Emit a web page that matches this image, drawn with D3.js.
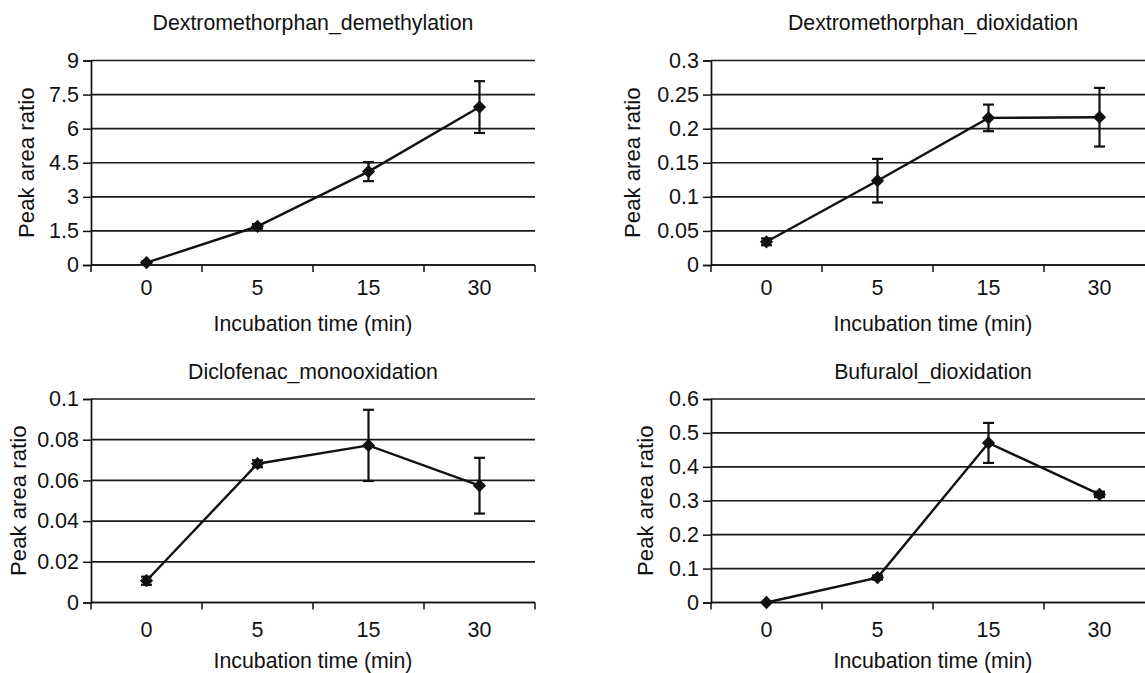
<!DOCTYPE html>
<html>
<head>
<meta charset="utf-8">
<script src="https://cdn.jsdelivr.net/npm/d3@7"></script>
<style>
  html, body { margin: 0; padding: 0; background: #fff; }
  svg { display: block; }
  text { font-family: "Liberation Sans", Arial, sans-serif; fill: #111; }
</style>
</head>
<body>
<svg id="chart" width="1145" height="673"></svg>
<script>
// ---- data ----
const categories = ["0", "5", "15", "30"];
const xAxisTitle = "Incubation time (min)";
const yAxisTitle = "Peak area ratio";

const titles = [
  "Dextromethorphan_demethylation",
  "Dextromethorphan_dioxidation",
  "Diclofenac_monooxidation",
  "Bufuralol_dioxidation"
];

const demethylationValues = [0.1, 1.7, 4.11, 6.95];
const demethylationErrors = [0.05, 0.1, 0.42, 1.14];
const demethylationTicks = [0, 1.5, 3, 4.5, 6, 7.5, 9];
const demethylationTickLabels = ["0", "1.5", "3", "4.5", "6", "7.5", "9"];

const dmDioxValues = [0.034, 0.1237, 0.2158, 0.2168];
const dmDioxErrors = [0.005, 0.032, 0.0195, 0.043];
const dmDioxTicks = [0, 0.05, 0.1, 0.15, 0.2, 0.25, 0.3];
const dmDioxTickLabels = ["0", "0.05", "0.1", "0.15", "0.2", "0.25", "0.3"];

const diclofenacValues = [0.0107, 0.0682, 0.0772, 0.0574];
const diclofenacErrors = [0.002, 0.0017, 0.0175, 0.0137];
const diclofenacTicks = [0, 0.02, 0.04, 0.06, 0.08, 0.1];
const diclofenacTickLabels = ["0", "0.02", "0.04", "0.06", "0.08", "0.1"];

const bufuralolValues = [0.0, 0.0735, 0.4705, 0.3187];
const bufuralolErrors = [0.0, 0.006, 0.059, 0.008];
const bufuralolTicks = [0, 0.1, 0.2, 0.3, 0.4, 0.5, 0.6];
const bufuralolTickLabels = ["0", "0.1", "0.2", "0.3", "0.4", "0.5", "0.6"];

// ---- layout ----
const svg = d3.select("#chart");
const panels = [
  { title: titles[0], values: demethylationValues, errors: demethylationErrors, ticks: demethylationTicks, labels: demethylationTickLabels,
    left: 91, top: 60.5, bottom: 265, titleY: 30, xLabY: 295, xTitleY: 331, yTitleX: 34 },
  { title: titles[1], values: dmDioxValues, errors: dmDioxErrors, ticks: dmDioxTicks, labels: dmDioxTickLabels,
    left: 711, top: 60.5, bottom: 265, titleY: 30, xLabY: 295, xTitleY: 331, yTitleX: 640 },
  { title: titles[2], values: diclofenacValues, errors: diclofenacErrors, ticks: diclofenacTicks, labels: diclofenacTickLabels,
    left: 91, top: 399, bottom: 602.5, titleY: 379, xLabY: 637, xTitleY: 668, yTitleX: 26 },
  { title: titles[3], values: bufuralolValues, errors: bufuralolErrors, ticks: bufuralolTicks, labels: bufuralolTickLabels,
    left: 711, top: 399, bottom: 602.5, titleY: 379, xLabY: 637, xTitleY: 668, yTitleX: 653 }
];
const plotWidth = 444;
const ink = "#111";
const fontMain = 21.5;

panels.forEach(p => {
  const g = svg.append("g");
  const right = p.left + plotWidth;
  const x = d3.scaleBand().domain(categories).range([p.left, right]);
  const yMax = p.ticks[p.ticks.length - 1];
  const y = d3.scaleLinear().domain([0, yMax]).range([p.bottom, p.top]);

  // gridlines
  g.selectAll("line.grid").data(p.ticks).join("line")
    .attr("x1", p.left).attr("x2", right)
    .attr("y1", d => y(d)).attr("y2", d => y(d))
    .attr("stroke", "#1a1a1a").attr("stroke-width", 1.7);

  // y axis
  const yAxis = d3.axisLeft(y).tickValues(p.ticks).tickSize(8).tickPadding(4)
    .tickFormat((d, i) => p.labels[i]);
  const ya = g.append("g").attr("transform", `translate(${p.left},0)`).call(yAxis);
  ya.select(".domain").attr("stroke", ink).attr("stroke-width", 1.7);
  ya.selectAll(".tick line").attr("stroke", ink).attr("stroke-width", 1.5);
  ya.selectAll(".tick text").attr("font-size", fontMain).attr("fill", "#111")
    .attr("font-family", "Liberation Sans, Arial, sans-serif");

  // x axis ticks at category boundaries
  const bounds = categories.map(c => x(c)).concat([right]);
  g.selectAll("line.xt").data(bounds).join("line")
    .attr("x1", d => d).attr("x2", d => d)
    .attr("y1", p.bottom).attr("y2", p.bottom + 7)
    .attr("stroke", ink).attr("stroke-width", 1.5);
  g.append("line").attr("x1", p.left).attr("x2", right)
    .attr("y1", p.bottom).attr("y2", p.bottom)
    .attr("stroke", ink).attr("stroke-width", 1.7);

  // x tick labels
  g.selectAll("text.xl").data(categories).join("text")
    .attr("x", d => x(d) + x.bandwidth() / 2).attr("y", p.xLabY)
    .attr("text-anchor", "middle").attr("font-size", fontMain).text(d => d);

  // titles
  g.append("text").attr("x", (p.left + right) / 2).attr("y", p.titleY)
    .attr("text-anchor", "middle").attr("font-size", 21.3).text(p.title);
  g.append("text").attr("x", (p.left + right) / 2).attr("y", p.xTitleY)
    .attr("text-anchor", "middle").attr("font-size", 21.3).text(xAxisTitle);
  g.append("text")
    .attr("transform", `translate(${p.yTitleX},${(p.top + p.bottom) / 2}) rotate(-90)`)
    .attr("text-anchor", "middle").attr("font-size", 22.2).text(yAxisTitle);

  const pts = categories.map((c, i) => ({ cx: x(c) + x.bandwidth() / 2, v: p.values[i], e: p.errors[i] }));

  // line
  g.append("path").datum(pts)
    .attr("d", d3.line().x(d => d.cx).y(d => y(d.v)))
    .attr("fill", "none").attr("stroke", ink).attr("stroke-width", 2.4);

  // error bars
  const eb = g.selectAll("g.eb").data(pts.filter(d => d.e > 0)).join("g");
  eb.append("line").attr("x1", d => d.cx).attr("x2", d => d.cx)
    .attr("y1", d => y(d.v - d.e)).attr("y2", d => y(d.v + d.e))
    .attr("stroke", ink).attr("stroke-width", 2.2);
  [1, -1].forEach(s => {
    eb.append("line").attr("x1", d => d.cx - 5.5).attr("x2", d => d.cx + 5.5)
      .attr("y1", d => y(d.v + s * d.e)).attr("y2", d => y(d.v + s * d.e))
      .attr("stroke", ink).attr("stroke-width", 2.2);
  });

  // diamond markers
  g.selectAll("path.mk").data(pts).join("path")
    .attr("d", d3.symbol().type(d3.symbolSquare).size(88))
    .attr("transform", d => `translate(${d.cx},${y(d.v)}) rotate(45)`)
    .attr("fill", ink);
});
</script>
</body>
</html>
